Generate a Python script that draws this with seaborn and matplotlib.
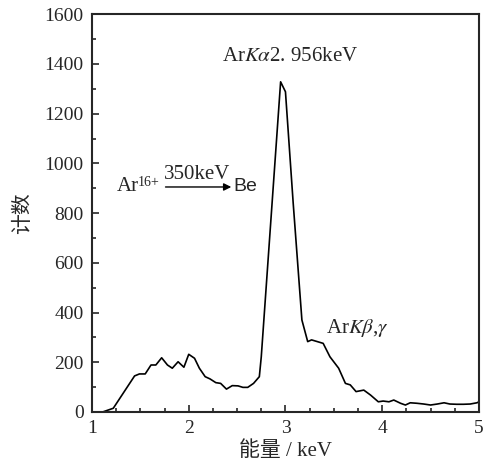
import pandas as pd
import numpy as np
import matplotlib
matplotlib.use("Agg")
import matplotlib.pyplot as plt
from matplotlib.ticker import MultipleLocator
import seaborn as sns

# Spectrum: energy (keV) and counts
energy = [1.00, 1.11, 1.22, 1.44, 1.49, 1.55, 1.61, 1.66, 1.72, 1.78, 1.83, 1.89,
          1.95, 2.00, 2.06, 2.11, 2.17, 2.22, 2.28, 2.33, 2.39, 2.45, 2.51, 2.56,
          2.61, 2.67, 2.73, 2.75, 2.95, 3.00, 3.08, 3.17, 3.23, 3.27, 3.39, 3.46,
          3.55, 3.62, 3.67, 3.73, 3.81, 3.88, 3.96, 4.01, 4.07, 4.12, 4.19, 4.24,
          4.29, 4.36, 4.43, 4.50, 4.57, 4.64, 4.70, 4.77, 4.84, 4.91, 4.98, 5.00]
counts = [0, 0, 15, 145, 153, 153, 189, 189, 218, 189, 176, 202,
          180, 232, 216, 176, 142, 133, 118, 115, 92, 106, 105, 99,
          99, 115, 142, 222, 1328, 1288, 840, 370, 283, 290, 276, 222,
          176, 115, 109, 82, 88, 68, 41, 44, 41, 48, 35, 28,
          37, 35, 32, 28, 32, 37, 32, 31, 31, 32, 37, 41]

df = pd.DataFrame({"energy": energy, "counts": counts})

sns.set_style("ticks")
plt.rcParams['font.family'] = ['Liberation Serif', 'Noto Sans CJK SC']
plt.rcParams['mathtext.fontset'] = 'stix'

fig = plt.figure(figsize=(4.83, 4.73), dpi=100)
ax = fig.add_axes([0.1905, 0.129, 0.801, 0.841])

sns.lineplot(data=df, x="energy", y="counts", sort=False, color="black",
             linewidth=1.2, ax=ax)

ax.set_xlim(1, 5)
ax.set_ylim(0, 1600)
ax.xaxis.set_major_locator(MultipleLocator(1))
ax.xaxis.set_minor_locator(MultipleLocator(0.25))
ax.yaxis.set_major_locator(MultipleLocator(200))
ax.yaxis.set_minor_locator(MultipleLocator(100))
ax.tick_params(which='both', direction='in', labelsize=14, width=1.2,
               top=False, right=False)
ax.tick_params(which='major', length=5, pad=6)
ax.tick_params(which='minor', length=3)
for pos in ['left', 'right', 'top', 'bottom']:
    ax.spines[pos].set_visible(True)
    ax.spines[pos].set_linewidth(1.5)

ax.set_xlabel("能量 / keV", fontsize=15, labelpad=3)
ax.set_ylabel("计数", fontsize=15, labelpad=8)

# annotations
ax.text(3.05, 1390, r"Ar$K\alpha$2. 956keV", fontsize=15, ha='center', va='bottom')
ax.text(3.74, 295, r"Ar$K\beta$,$\gamma$", fontsize=15, ha='center', va='bottom')
ax.text(1.26, 905, "Ar", fontsize=15, ha='left', va='center')
ax.text(1.47, 925, "16+", fontsize=10, ha='left', va='center')
ax.annotate("", xy=(2.44, 905), xytext=(1.76, 905),
            arrowprops=dict(arrowstyle='-|>', color='black', lw=1.0,
                            mutation_scale=11, shrinkA=0, shrinkB=0))
ax.text(2.09, 915, "350keV", fontsize=15, ha='center', va='bottom')
ax.text(2.46, 905, "Be", fontsize=14, ha='left', va='center',
        family='Liberation Sans')

fig.savefig("out.png", dpi=100)
